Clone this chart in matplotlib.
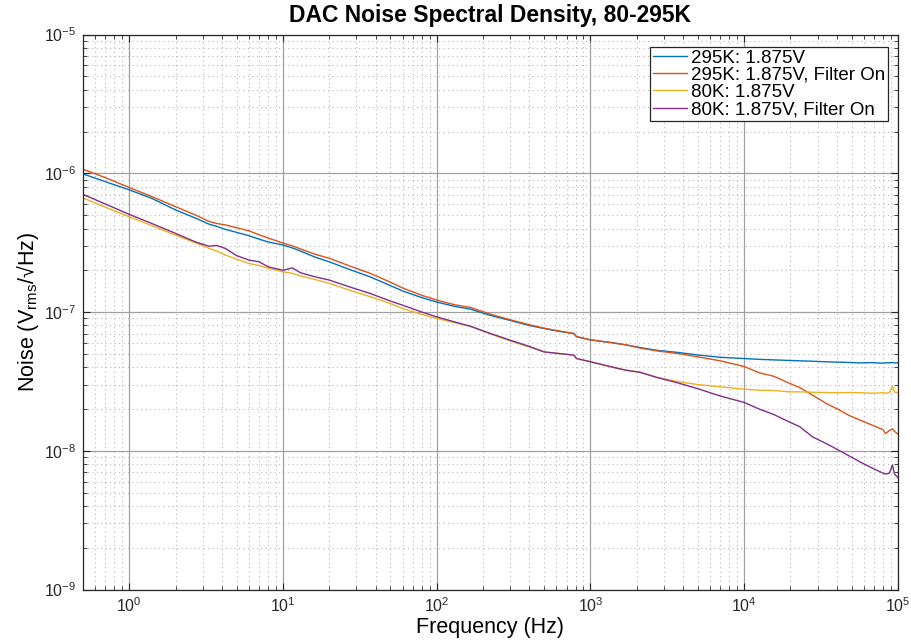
import numpy as np
import matplotlib
matplotlib.use("Agg")
import matplotlib.pyplot as plt
from matplotlib.ticker import LogLocator, NullFormatter

plt.rcParams['font.family'] = ['Liberation Sans', 'DejaVu Sans']
plt.rcParams['mathtext.default'] = 'regular'

# frequency grid (Hz)
freq = [0.5, 0.7, 1, 1.4, 2, 2.7, 3.3, 3.7, 4.2, 5, 6, 7, 8, 10, 11.5, 13, 16, 20,
        28, 37, 50, 60, 80, 100, 130, 165, 220, 300, 400, 500, 650, 780, 810,
        1000, 1400, 1700, 2100, 2700, 3800, 5000, 7000, 10000, 12500, 15500,
        19500, 23000, 27800, 34000, 41800, 48000, 56800, 68000, 80000, 83000,
        88000, 92000, 95000, 100000]

# 295K: 1.875V
noise_295 = [9.9e-7, 8.7e-7, 7.6e-7, 6.6e-7, 5.45e-7, 4.75e-7, 4.3e-7, 4.15e-7,
             3.95e-7, 3.75e-7, 3.55e-7, 3.35e-7, 3.2e-7, 3.04e-7, 2.9e-7, 2.75e-7,
             2.5e-7, 2.3e-7, 2.0e-7, 1.79e-7, 1.55e-7, 1.42e-7, 1.27e-7, 1.18e-7,
             1.10e-7, 1.05e-7, 9.5e-8, 8.7e-8, 8.0e-8, 7.6e-8, 7.2e-8, 7.0e-8,
             6.65e-8, 6.3e-8, 6.0e-8, 5.8e-8, 5.55e-8, 5.3e-8, 5.1e-8, 4.9e-8,
             4.72e-8, 4.62e-8, 4.56e-8, 4.52e-8, 4.48e-8, 4.45e-8, 4.42e-8,
             4.38e-8, 4.35e-8, 4.33e-8, 4.30e-8, 4.32e-8, 4.28e-8, 4.30e-8,
             4.31e-8, 4.33e-8, 4.30e-8, 4.31e-8]

# 295K: 1.875V, Filter On
noise_295_filt = [1.07e-6, 9.3e-7, 7.9e-7, 6.8e-7, 5.75e-7, 5.0e-7, 4.5e-7, 4.35e-7,
                  4.25e-7, 4.05e-7, 3.85e-7, 3.6e-7, 3.42e-7, 3.14e-7, 3.0e-7,
                  2.85e-7, 2.62e-7, 2.44e-7, 2.12e-7, 1.90e-7, 1.64e-7, 1.49e-7,
                  1.32e-7, 1.22e-7, 1.13e-7, 1.08e-7, 9.7e-8, 8.8e-8, 8.1e-8,
                  7.65e-8, 7.25e-8, 7.0e-8, 6.65e-8, 6.3e-8, 6.0e-8, 5.8e-8, 5.5e-8,
                  5.25e-8, 5.0e-8, 4.75e-8, 4.45e-8, 4.05e-8, 3.65e-8, 3.45e-8,
                  3.08e-8, 2.85e-8, 2.52e-8, 2.2e-8, 1.96e-8, 1.8e-8, 1.66e-8,
                  1.53e-8, 1.42e-8, 1.33e-8, 1.40e-8, 1.44e-8, 1.38e-8, 1.32e-8]

# 80K: 1.875V
noise_80 = [6.65e-7, 5.7e-7, 4.86e-7, 4.2e-7, 3.58e-7, 3.15e-7, 2.88e-7, 2.75e-7,
            2.58e-7, 2.4e-7, 2.24e-7, 2.16e-7, 2.07e-7, 1.95e-7, 1.9e-7, 1.82e-7,
            1.72e-7, 1.61e-7, 1.42e-7, 1.29e-7, 1.15e-7, 1.06e-7, 9.6e-8, 8.99e-8,
            8.4e-8, 7.9e-8, 7.0e-8, 6.2e-8, 5.6e-8, 5.15e-8, 5.0e-8, 4.88e-8,
            4.62e-8, 4.38e-8, 4.0e-8, 3.81e-8, 3.68e-8, 3.38e-8, 3.14e-8, 3.0e-8,
            2.89e-8, 2.78e-8, 2.73e-8, 2.72e-8, 2.66e-8, 2.66e-8, 2.64e-8,
            2.63e-8, 2.62e-8, 2.63e-8, 2.62e-8, 2.60e-8, 2.62e-8, 2.60e-8,
            2.62e-8, 2.92e-8, 2.65e-8, 2.62e-8]

# 80K: 1.875V, Filter On
noise_80_filt = [7.05e-7, 6.0e-7, 5.06e-7, 4.35e-7, 3.69e-7, 3.2e-7, 2.98e-7, 3.02e-7,
                 2.88e-7, 2.55e-7, 2.37e-7, 2.3e-7, 2.12e-7, 2.0e-7, 2.08e-7,
                 1.92e-7, 1.80e-7, 1.70e-7, 1.50e-7, 1.36e-7, 1.2e-7, 1.12e-7,
                 1.0e-7, 9.23e-8, 8.5e-8, 7.91e-8, 7.05e-8, 6.27e-8, 5.65e-8,
                 5.16e-8, 5.0e-8, 4.89e-8, 4.63e-8, 4.38e-8, 4.0e-8, 3.81e-8,
                 3.68e-8, 3.38e-8, 3.06e-8, 2.8e-8, 2.48e-8, 2.23e-8, 2.0e-8,
                 1.83e-8, 1.62e-8, 1.49e-8, 1.26e-8, 1.13e-8, 1.0e-8, 9.2e-9,
                 8.3e-9, 7.5e-9, 6.9e-9, 6.8e-9, 6.9e-9, 7.9e-9, 6.8e-9, 6.4e-9]

labels = ['295K: 1.875V', '295K: 1.875V, Filter On',
          '80K: 1.875V', '80K: 1.875V, Filter On']
colors = ['#0072BD', '#D95319', '#EDB120', '#7E2F8E']

xticks = [1e0, 1e1, 1e2, 1e3, 1e4, 1e5]
yticks = [1e-9, 1e-8, 1e-7, 1e-6, 1e-5]

fig = plt.figure(figsize=(9.12, 6.43), dpi=100)
ax = fig.add_axes([0.091, 0.0832, 0.8936, 0.863])

for ys, lab, c in zip([noise_295, noise_295_filt, noise_80, noise_80_filt], labels, colors):
    ax.loglog(freq, ys, color=c, lw=1.0, label=lab)

ax.set_xlim(0.5, 1e5)
ax.set_ylim(1e-9, 1e-5)

ax.set_xticks(xticks)
ax.set_yticks(yticks)
ax.xaxis.set_minor_locator(LogLocator(base=10, subs=np.arange(2, 10), numticks=12))
ax.yaxis.set_minor_locator(LogLocator(base=10, subs=np.arange(2, 10), numticks=12))
ax.xaxis.set_minor_formatter(NullFormatter())
ax.yaxis.set_minor_formatter(NullFormatter())

ax.grid(which='major', color='#a0a0a0', lw=0.9, ls='-')
ax.grid(which='minor', color='#b8b8b8', lw=0.8, ls=(0, (1, 3)))
ax.set_axisbelow(True)

ax.tick_params(which='both', direction='in', top=True, right=True,
               colors='#262626', labelcolor='#262626')
ax.tick_params(which='major', length=5, labelsize=11.5, pad=5)
ax.tick_params(which='minor', length=3)
for s in ax.spines.values():
    s.set_color('#262626')
    s.set_linewidth(0.9)

ax.set_title('DAC Noise Spectral Density, 80-295K', fontsize=16.5,
             fontweight='bold', pad=9)
ax.set_xlabel('Frequency (Hz)', fontsize=15.5, labelpad=1)
ax.set_ylabel('Noise (V$_{rms}$/\u221aHz)', fontsize=15.5, labelpad=2)

leg = ax.legend(loc='upper right', bbox_to_anchor=(0.988, 0.978), fontsize=13.5,
                fancybox=False, framealpha=1, edgecolor='#262626',
                handlelength=1.85, handletextpad=0.2, labelspacing=0.0,
                borderpad=0.15, borderaxespad=0)
leg.get_frame().set_linewidth(0.9)

plt.savefig('out.png', dpi=100)
